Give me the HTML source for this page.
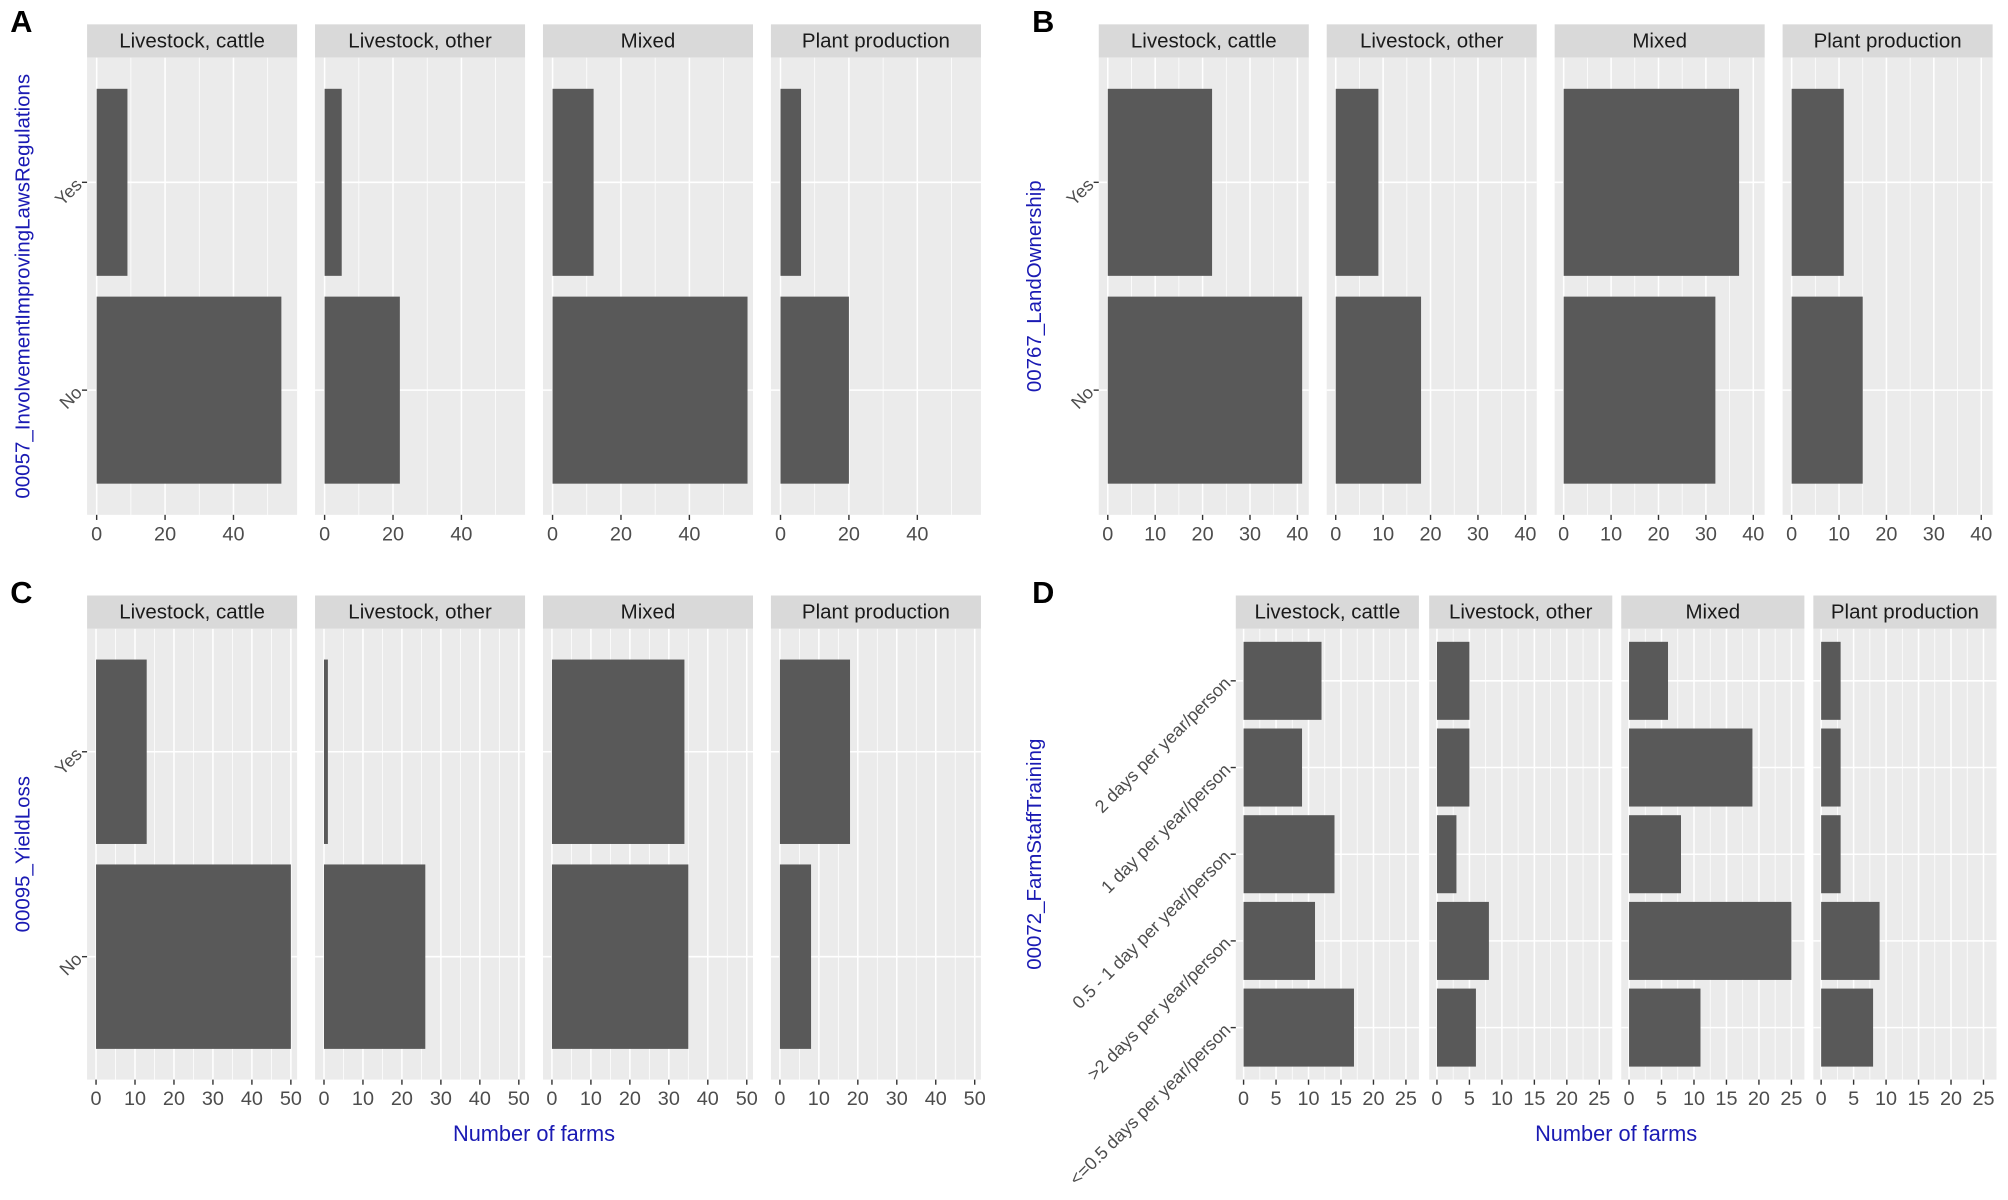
<!DOCTYPE html>
<html><head><meta charset="utf-8"><style>
html,body{margin:0;padding:0;background:#fff;}
svg{display:block;font-family:"Liberation Sans",Arial,sans-serif;}
</style></head><body>
<svg id="chart" width="2008" height="1200" viewBox="0 0 1568 937" preserveAspectRatio="none" xmlns="http://www.w3.org/2000/svg"></svg>
<script>
const facets = ["Livestock, cattle", "Livestock, other", "Mixed", "Plant production"];
const catsYN = ["No", "Yes"];
const catsTraining = ["<=0.5 days per year/person", ">2 days per year/person", "0.5 - 1 day per year/person", "1 day per year/person", "2 days per year/person"];
// Panel A values [facet][category]
const valuesA = [[54, 9], [22, 5], [57, 12], [20, 6]];
// Panel B
const valuesB = [[41, 22], [18, 9], [32, 37], [15, 11]];
// Panel C
const valuesC = [[50, 13], [26, 1], [35, 34], [8, 18]];
// Panel D (order of catsTraining)
const valuesD = [[17, 11, 14, 9, 12], [6, 8, 3, 5, 5], [11, 25, 8, 19, 6], [8, 9, 3, 3, 3]];
const ticksA = [0, 20, 40];
const ticksB = [0, 10, 20, 30, 40];
const ticksC = [0, 10, 20, 30, 40, 50];
const ticksD = [0, 5, 10, 15, 20, 25];

const NS = "http://www.w3.org/2000/svg";
const svg = document.getElementById("chart");
function mk(tag, attrs, parent) {
  const e = document.createElementNS(NS, tag);
  for (const k in attrs) e.setAttribute(k, attrs[k]);
  (parent || svg).appendChild(e);
  return e;
}

function drawPanel(cfg) {
  const g = mk("g", {});
  
  
  const top = cfg.top, stripH = 26, plotTop = top + stripH, plotBot = cfg.bottom;
  const n = cfg.cats.length;
  const band = (plotBot - plotTop) / (n + 0.2);
  const yC = i => plotBot - band * (0.6 + i);
  cfg.xs.forEach((x0, f) => {
    const w = cfg.w;
    const xS = v => x0 + (v - cfg.dom[0]) / (cfg.dom[1] - cfg.dom[0]) * w;
    const strip = mk("rect", {x: x0, y: top, width: w, height: stripH, fill: "#d9d9d9"}, g);
    
    
    const st = mk("text", {x: x0 + w / 2, y: top + 18, "text-anchor": "middle", "font-size": 16, fill: "#1a1a1a"}, g);
    st.textContent = facets[f];
    
    
    const bg = mk("rect", {x: x0, y: plotTop, width: w, height: plotBot - plotTop, fill: "#ebebeb"}, g);
    
    
    const step = cfg.ticks[1] - cfg.ticks[0];
    for (let v = cfg.ticks[0] + step / 2; v < cfg.dom[1]; v += step) {
      mk("line", {x1: xS(v), x2: xS(v), y1: plotTop, y2: plotBot, stroke: "#fff", "stroke-width": 0.6}, g);
    }
    cfg.ticks.forEach(t => {
      mk("line", {x1: xS(t), x2: xS(t), y1: plotTop, y2: plotBot, stroke: "#fff", "stroke-width": 1.2}, g);
      mk("line", {x1: xS(t), x2: xS(t), y1: plotBot, y2: plotBot + 4, stroke: "#333", "stroke-width": 1.1}, g);
      const tl = mk("text", {x: xS(t), y: plotBot + 20, "text-anchor": "middle", "font-size": 15.5, fill: "#4d4d4d"}, g);
      tl.textContent = t;
      
      
    });
    cfg.cats.forEach((c, i) => {
      mk("line", {x1: x0, x2: x0 + w, y1: yC(i), y2: yC(i), stroke: "#fff", "stroke-width": 1.2}, g);
    });
    cfg.cats.forEach((c, i) => {
      const v = cfg.vals[f][i];
      const b = mk("rect", {x: xS(0), y: yC(i) - band * 0.45, width: xS(v) - xS(0), height: band * 0.9, fill: "#595959"}, g);
      
      
    });
  });
  const ax = cfg.xs[0];
  cfg.cats.forEach((c, i) => {
    mk("line", {x1: ax - 4, x2: ax, y1: yC(i), y2: yC(i), stroke: "#333", "stroke-width": 1.1}, g);
    const lab = mk("text", {x: ax - 6, y: yC(i) + 4, "text-anchor": "end", "font-size": 14, fill: "#4d4d4d", transform: `rotate(-45 ${ax - 6} ${yC(i)})`}, g);
    lab.textContent = c;
    
    
  });
  const yt = mk("text", {x: cfg.titleX, y: (plotTop + plotBot) / 2, "text-anchor": "middle", "font-size": 16, fill: "#1a1ab3", transform: `rotate(-90 ${cfg.titleX} ${(plotTop + plotBot) / 2})`}, g);
  yt.textContent = cfg.ytitle;
  
  
  const pl = mk("text", {x: cfg.letterX, y: top + 6, "font-size": 24, "font-weight": "bold", fill: "#000"}, g);
  pl.textContent = cfg.letter;
  
  
  if (cfg.xtitle) {
    const cx = (cfg.xs[0] + cfg.xs[3] + cfg.w) / 2;
    const xt = mk("text", {x: cx, y: plotBot + 48, "text-anchor": "middle", "font-size": 17, fill: "#1a1ab3"}, g);
    xt.textContent = "Number of farms";
    
    
  }
}

drawPanel({name: "panel-a", letter: "A", letterX: 8, top: 19, bottom: 402, xs: [68, 246, 424, 602], w: 164, dom: [-2.8, 58.6], ticks: ticksA, cats: catsYN, vals: valuesA, ytitle: "00057_InvolvementImprovingLawsRegulations", titleX: 23, xtitle: false});
drawPanel({name: "panel-b", letter: "B", letterX: 806, top: 19, bottom: 402, xs: [858, 1036, 1214, 1392], w: 164, dom: [-1.9, 42.4], ticks: ticksB, cats: catsYN, vals: valuesB, ytitle: "00767_LandOwnership", titleX: 813, xtitle: false});
drawPanel({name: "panel-c", letter: "C", letterX: 8, top: 465, bottom: 843, xs: [68, 246, 424, 602], w: 164, dom: [-2.3, 51.6], ticks: ticksC, cats: catsYN, vals: valuesC, ytitle: "00095_YieldLoss", titleX: 23, xtitle: true});
drawPanel({name: "panel-d", letter: "D", letterX: 806, top: 465, bottom: 843, xs: [965, 1116, 1266, 1416], w: 143, dom: [-1.2, 27], ticks: ticksD, cats: catsTraining, vals: valuesD, ytitle: "00072_FarmStaffTraining", titleX: 813, xtitle: true});
</script>
</body></html>
